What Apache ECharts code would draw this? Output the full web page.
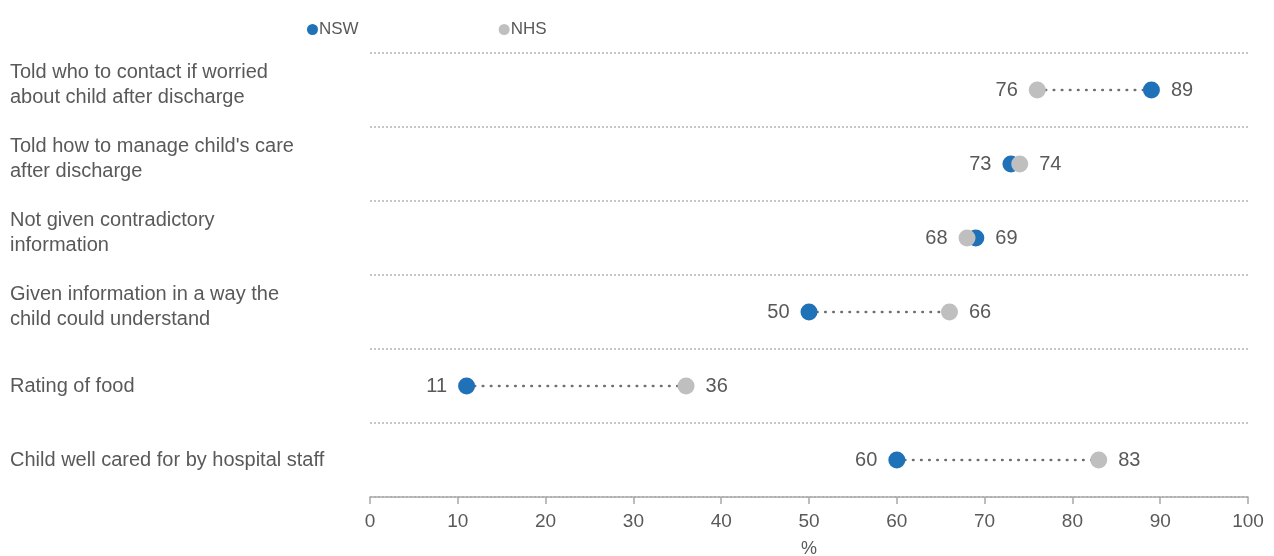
<!DOCTYPE html>
<html>
<head>
<meta charset="utf-8">
<script src="https://cdn.jsdelivr.net/npm/echarts@6/dist/echarts.min.js"></script>
<style>
  html, body { margin: 0; padding: 0; background: #fff; }
  #chart { width: 1274px; height: 556px; }
</style>
</head>
<body>
<div id="chart"></div>
<script>
var categories = [
    'Told who to contact if worried\nabout child after discharge',
    "Told how to manage child's care\nafter discharge",
    'Not given contradictory\ninformation',
    'Given information in a way the\nchild could understand',
    'Rating of food',
    'Child well cared for by hospital staff'
];
var nswValues = [89, 73, 69, 50, 11, 60];
var nhsValues = [76, 74, 68, 66, 36, 83];
var xTicks = [0, 10, 20, 30, 40, 50, 60, 70, 80, 90, 100];

var NSW_COLOR = '#1f72b8';
var NHS_COLOR = '#bfbfbf';
var TEXT_COLOR = '#595959';
var FONT = 'Liberation Sans';

// put the value label on the outer side of each pair
function buildData(own, other) {
    var out = [];
    for (var i = 0; i < own.length; i++) {
        out.push({
            value: [own[i], i],
            label: { position: own[i] < other[i] ? 'left' : 'right' }
        });
    }
    return out;
}

var pairData = [];
for (var i = 0; i < categories.length; i++) {
    pairData.push([nswValues[i], nhsValues[i], i]);
}

var chart = echarts.init(document.getElementById('chart'));
var option = {
    animation: false,
    textStyle: { fontFamily: FONT },
    legend: {
        left: 302,
        top: 16,
        itemGap: 140,
        itemWidth: 11,
        itemHeight: 11,
        icon: 'circle',
        textStyle: { fontSize: 17, color: TEXT_COLOR, fontFamily: FONT, padding: [0, 0, 0, -4] },
        data: ['NSW', 'NHS']
    },
    grid: { left: 370, right: 26, top: 53, bottom: 59, containLabel: false, outerBoundsMode: 'none' },
    xAxis: {
        type: 'value',
        min: 0,
        max: 100,
        interval: 10,
        name: '%',
        nameLocation: 'middle',
        nameGap: 43,
        nameTextStyle: { fontSize: 18, color: TEXT_COLOR, fontFamily: FONT },
        axisLine: { show: true, lineStyle: { color: '#a8a8a8', width: 1.5, type: [2, 1] } },
        axisTick: { show: true, inside: false, length: 7, lineStyle: { color: '#a8a8a8', width: 1.5 } },
        axisLabel: { fontSize: 19, color: TEXT_COLOR, margin: 15, fontFamily: FONT,
            customValues: xTicks },
        splitLine: { show: false }
    },
    yAxis: {
        type: 'category',
        data: categories,
        inverse: true,
        axisLine: { show: false },
        axisTick: { show: false },
        axisLabel: {
            align: 'left',
            margin: 360,
            fontSize: 20,
            lineHeight: 25,
            color: TEXT_COLOR,
            fontFamily: FONT,
            // two-line labels sit a little above the row centre
            formatter: function (v) {
                return v.indexOf('\n') >= 0 ? v + '\n{s|}' : v;
            },
            rich: { s: { lineHeight: 10, fontSize: 1 } }
        },
        splitLine: { show: true, lineStyle: { color: '#c8c8c8', width: 2, type: [2, 2] } }
    },
    series: [
        {
            type: 'custom',
            silent: true,
            z: 1,
            renderItem: function (params, api) {
                var a = api.coord([api.value(0), api.value(2)]);
                var b = api.coord([api.value(1), api.value(2)]);
                return {
                    type: 'line',
                    shape: { x1: a[0], y1: a[1], x2: b[0], y2: b[1] },
                    style: { stroke: '#6f6f6f', lineWidth: 2.6, lineDash: [0.5, 7.6], lineCap: 'round' }
                };
            },
            encode: { x: [0, 1], y: 2 },
            data: pairData
        },
        {
            name: 'NHS',
            type: 'scatter',
            z: 3,
            symbolSize: 17,
            itemStyle: { color: NHS_COLOR, opacity: 1 },
            label: { show: true, distance: 11, fontSize: 20, color: TEXT_COLOR, fontFamily: FONT,
                formatter: function (p) { return p.value[0]; } },
            data: buildData(nhsValues, nswValues)
        },
        {
            name: 'NSW',
            type: 'scatter',
            z: 2,
            symbolSize: 17,
            itemStyle: { color: NSW_COLOR, opacity: 1 },
            label: { show: true, distance: 11, fontSize: 20, color: TEXT_COLOR, fontFamily: FONT,
                formatter: function (p) { return p.value[0]; } },
            data: buildData(nswValues, nhsValues)
        }
    ]
};
chart.setOption(option);
</script>
</body>
</html>
